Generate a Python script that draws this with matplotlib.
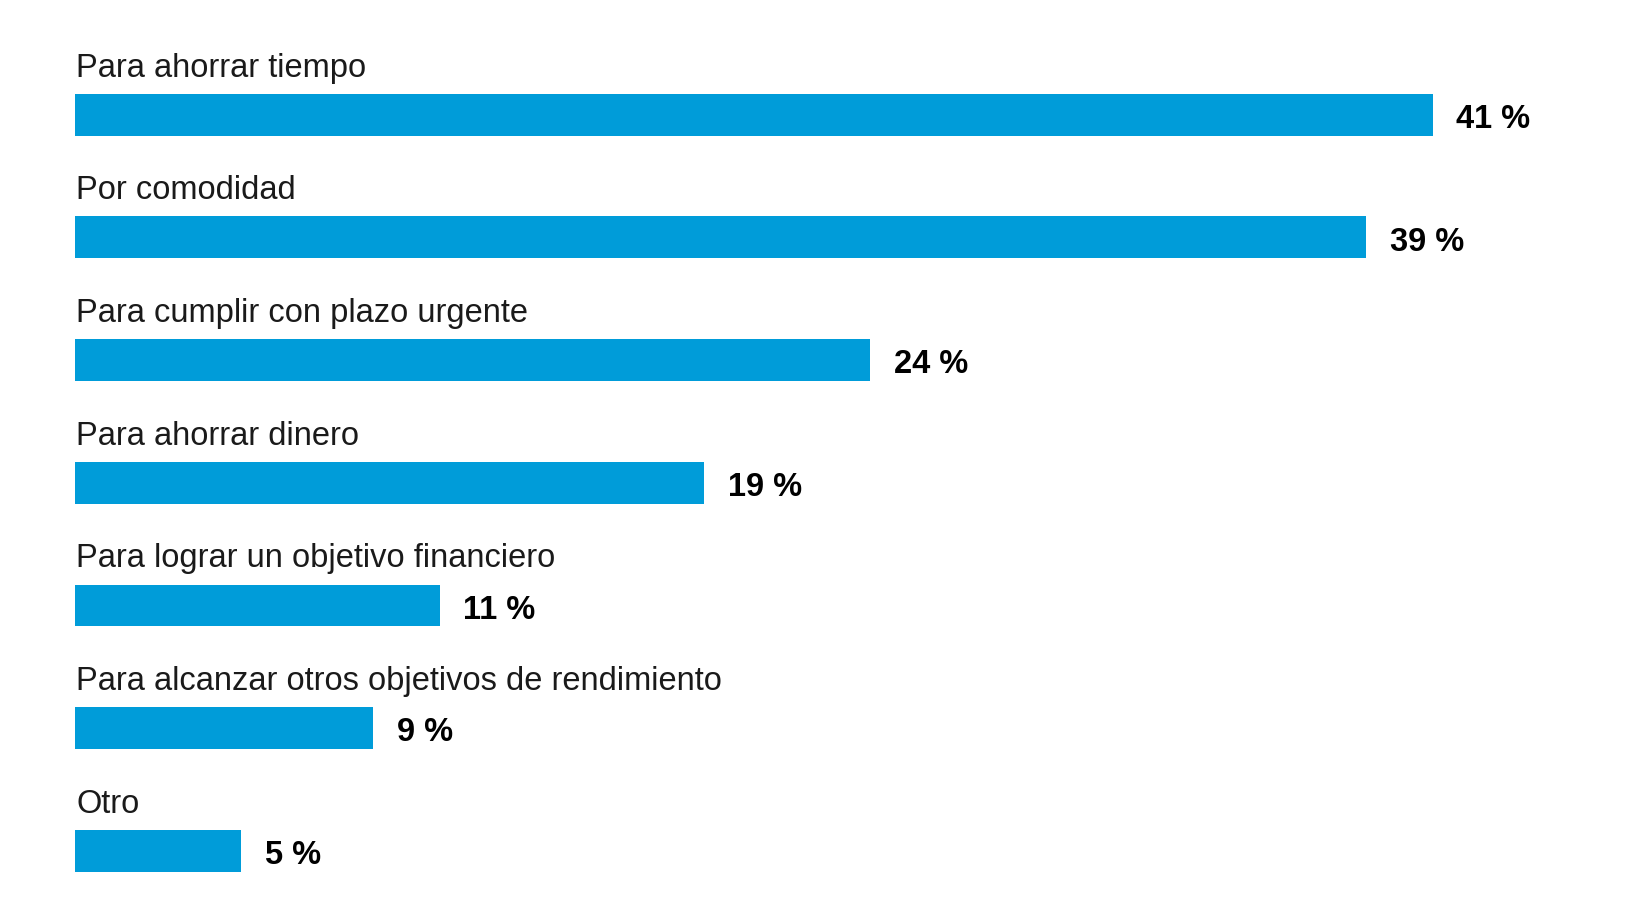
import matplotlib.pyplot as plt

# data
categories = [
    "Para ahorrar tiempo",
    "Por comodidad",
    "Para cumplir con plazo urgente",
    "Para ahorrar dinero",
    "Para lograr un objetivo financiero",
    "Para alcanzar otros objetivos de rendimiento",
    "Otro",
]
values = [41, 39, 24, 19, 11, 9, 5]
value_labels = ["41 %", "39 %", "24 %", "19 %", "11 %", "9 %", "5 %"]

plt.rcParams["font.family"] = ["Liberation Sans", "DejaVu Sans"]

fig = plt.figure(figsize=(16.49, 9.24), dpi=100)
ax = fig.add_axes([0, 0, 1, 1])

pos = list(range(len(categories)))
ax.barh(pos, values, height=0.342, color="#009cd9")

for i, (cat, val, lab) in enumerate(zip(categories, values, value_labels)):
    # category name above the bar
    ax.text(0.03, i - 0.31, cat, ha="left", va="baseline", fontsize=23.5,
            color="#1a1a1a")
    # value at the end of the bar
    ax.text(val + 0.72, i + 0.01, lab, ha="left", va="center_baseline",
            fontsize=23.5, fontweight="bold", color="#000000")

# map data so that 1 % = 33.1 px and bars start at x = 75.5 px
ax.set_xlim(-75.5 / 33.1, (1649 - 75.5) / 33.1)
ax.set_ylim((924 - 114.7) / 122.7, -114.7 / 122.7)
ax.axis("off")

fig.savefig("out.png", dpi=100, facecolor="white")
